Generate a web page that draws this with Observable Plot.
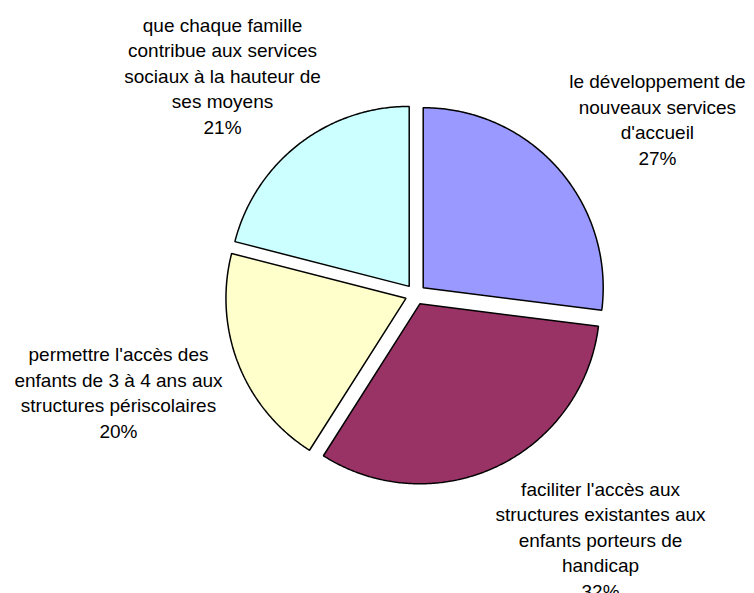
<!DOCTYPE html>
<html>
<head>
<meta charset="utf-8">
<script src="https://cdn.jsdelivr.net/npm/d3@7"></script>
<script src="https://cdn.jsdelivr.net/npm/@observablehq/plot@0.6"></script>
<style>
  html, body { margin: 0; padding: 0; background: #fff; }
  #chart svg { display: block; }
</style>
</head>
<body>
<div id="chart"></div>
<script>
// ---- data ----
const categories = [
  "le développement de nouveaux services d'accueil",
  "faciliter l'accès aux structures existantes aux enfants porteurs de handicap",
  "permettre l'accès des enfants de 3 à 4 ans aux structures périscolaires",
  "que chaque famille contribue aux services sociaux à la hauteur de ses moyens"
];
const values = [27, 32, 20, 21];
const labelLines = [
  ["le développement de", "nouveaux services", "d'accueil"],
  ["faciliter l'accès aux", "structures existantes aux", "enfants porteurs de", "handicap"],
  ["permettre l'accès des", "enfants de 3 à 4 ans aux", "structures périscolaires"],
  ["que chaque famille", "contribue aux services", "sociaux à la hauteur de", "ses moyens"]
];
const colors = ["#9999FF", "#993366", "#FFFFCC", "#CCFFFF"];

// ---- layout (not data) ----
const W = 754, H = 593;
const cx = 415, cy = 294, R = 180;
const explode = 0.057;
// label block centres, in radius units relative to pie centre
const labelPos = [[1.344, 0.978], [1.028, -1.356], [-1.65, -0.539], [-1.072, 1.222]];

const total = d3.sum(values);
const slices = categories.map((c, i) => ({key: c, value: values[i], color: colors[i], i}));
const arcs = d3.pie().sort(null).value(d => d.value).startAngle(0).endAngle(2 * Math.PI)(slices);

const pts = [];
for (const a of arcs) {
  const mid = (a.startAngle + a.endAngle) / 2;
  const ox = explode * Math.sin(mid), oy = explode * Math.cos(mid);
  pts.push({key: a.data.key, color: a.data.color, x: ox, y: oy});
  const n = Math.max(2, Math.ceil((a.endAngle - a.startAngle) / (Math.PI / 360)));
  for (let k = 0; k <= n; k++) {
    const t = a.startAngle + (a.endAngle - a.startAngle) * k / n;
    pts.push({key: a.data.key, color: a.data.color, x: ox + Math.sin(t), y: oy + Math.cos(t)});
  }
}

const labels = slices.map((s, i) => ({
  x: labelPos[i][0], y: labelPos[i][1],
  text: [...labelLines[i], Math.round(s.value / total * 100) + "%"].join("\n")
}));

const chart = Plot.plot({
  width: W, height: H,
  margin: 0,
  style: {fontFamily: "'Liberation Sans', Arial, sans-serif", background: "#fff"},
  x: {type: "linear", domain: [-1, 1], range: [cx - R, cx + R], axis: null},
  y: {type: "linear", domain: [-1, 1], range: [cy + R, cy - R], axis: null},
  color: {type: "identity"},
  marks: [
    Plot.line(pts, {x: "x", y: "y", z: "key", fill: "color", stroke: "#000", strokeWidth: 1.5, curve: "linear-closed", strokeLinejoin: "miter"}),
    Plot.text(labels, {x: "x", y: "y", text: "text", textAnchor: "middle", lineAnchor: "middle",
      lineHeight: 1.34, fontSize: 19, fill: "#000"})
  ]
});
document.getElementById("chart").append(chart);
</script>
</body>
</html>
